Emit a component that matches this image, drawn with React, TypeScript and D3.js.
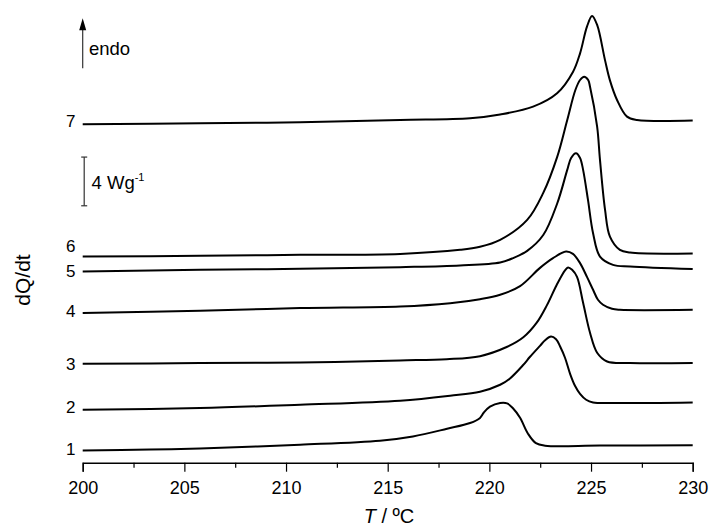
import React, { useEffect, useRef } from "react";
import * as d3 from "d3";

// DSC heating curves, heat flow in W/g (curves offset vertically), temperature in °C
const temps1 = [200, 203.31, 205.77, 210.69, 214.62, 216.24, 217.92, 219.05, 219.54, 219.72, 220.03, 220.53, 220.87, 221.16, 221.51, 221.9, 222.29, 222.74, 225.44, 230];
const flow1 = [1.01, 1.08, 1.17, 1.48, 1.81, 2.16, 2.79, 3.26, 3.68, 4.1, 4.6, 4.9, 4.87, 4.47, 3.69, 2.38, 1.6, 1.4, 1.41, 1.44];

const temps2 = [200, 205.77, 210.69, 215.61, 218.07, 219.54, 220.53, 221.0, 221.65, 222.0, 222.49, 222.74, 223.03, 223.28, 223.48, 223.72, 223.97, 224.21, 224.46, 224.76, 225.1, 226.08, 230];
const flow2 = [4.35, 4.49, 4.76, 5.09, 5.5, 5.83, 6.4, 6.9, 8.0, 8.7, 9.6, 10.05, 10.36, 10.14, 9.54, 8.62, 7.3, 6.32, 5.66, 5.17, 4.95, 4.9, 4.95];

const temps3 = [200, 205.77, 210.69, 215.61, 217.9, 219.54, 220.85, 221.67, 222.33, 222.82, 223.31, 223.72, 223.87, 224.07, 224.31, 224.61, 224.95, 225.3, 225.79, 226.92, 230];
const flow3 = [8.12, 8.18, 8.23, 8.4, 8.5, 8.75, 9.5, 10.3, 11.5, 12.9, 14.6, 15.8, 16.04, 15.84, 15.26, 13.13, 10.67, 9.03, 8.31, 8.18, 8.18];

const temps4 = [200, 205.77, 210.69, 215.61, 218.07, 219.54, 220.53, 221.51, 222.49, 223.13, 223.77, 224.11, 224.46, 224.8, 225.1, 225.34, 225.59, 226.03, 226.42, 230];
const flow4 = [12.29, 12.47, 12.7, 12.83, 13.1, 13.43, 13.79, 14.5, 16.0, 16.8, 17.34, 17.15, 16.39, 15.26, 14.2, 13.38, 12.97, 12.64, 12.56, 12.56];

const temps5 = [200, 205.77, 210.69, 215.61, 218.56, 220.53, 221.16, 221.86, 222.65, 223.34, 223.83, 224.02, 224.26, 224.46, 224.61, 224.85, 225.1, 225.44, 226.08, 226.92, 230];
const flow5 = [15.7, 15.84, 15.92, 16.06, 16.2, 16.45, 16.8, 17.4, 18.7, 21.31, 24.05, 25.03, 25.42, 25.03, 24.05, 21.58, 18.85, 16.93, 16.25, 16.11, 15.9];

const temps6 = [200, 205.77, 210.69, 215.61, 218.56, 219.54, 220.53, 221.86, 222.65, 223.34, 223.83, 224.23, 224.46, 224.66, 224.86, 224.95, 225.3, 225.44, 225.69, 225.93, 226.42, 226.92, 230];
const flow6 = [16.93, 16.99, 17.07, 17.15, 17.48, 17.73, 18.3, 19.94, 22.16, 25.14, 28.15, 30.61, 31.43, 31.7, 31.43, 30.88, 27.6, 24.87, 20.76, 18.57, 17.48, 17.26, 17.19];

const temps7 = [200, 205.77, 210.69, 215.61, 219.05, 220.53, 222.15, 223.33, 224.11, 224.46, 224.8, 225.05, 225.3, 225.69, 225.93, 226.28, 226.77, 227.26, 230];
const flow7 = [27.8, 27.88, 27.96, 28.15, 28.29, 28.6, 29.24, 30.34, 32.09, 33.62, 35.81, 36.69, 35.95, 33.04, 31.4, 29.79, 28.42, 28.15, 28.1];

const curveNames = ["1", "2", "3", "4", "5", "6", "7"];
const curveLabelY = [1.07, 4.51, 8.04, 12.39, 15.7, 17.74, 28.01];

const xTicks = [200, 205, 210, 215, 220, 225, 230];
const xMinorTicks = [202.5, 207.5, 212.5, 217.5, 222.5, 227.5];

// scale bar (W/g) and endo arrow extents (W/g)
const scaleBarBase = 21.1;
const scaleBarSize = 4;
const arrowBase = 32.4;
const arrowTip = 36.5;

const W = 709;
const H = 529;
const FONT = "'Liberation Sans', Arial, Helvetica, sans-serif";

export default function App() {
  const axisRef = useRef<SVGGElement>(null);

  const x = d3.scaleLinear().domain([200, 230]).range([82.7, 692.7]);
  const y = d3.scaleLinear().domain([0, 38]).range([462.7, 0]);

  const series = [
    [temps1, flow1],
    [temps2, flow2],
    [temps3, flow3],
    [temps4, flow4],
    [temps5, flow5],
    [temps6, flow6],
    [temps7, flow7],
  ];

  const line = d3
    .line<[number, number]>()
    .x((d) => x(d[0]))
    .y((d) => y(d[1]))
    .curve(d3.curveCatmullRom.alpha(0.5));

  useEffect(() => {
    if (!axisRef.current) return;
    const g = d3.select(axisRef.current);
    g.selectAll("*").remove();
    const major = d3
      .axisBottom(x)
      .tickValues(xTicks)
      .tickSize(9)
      .tickPadding(9.5)
      .tickFormat((d) => String(d));
    g.append("g").call(major);
    const minor = d3
      .axisBottom(x)
      .tickValues(xMinorTicks)
      .tickSize(5)
      .tickFormat(() => "");
    g.append("g").call(minor).select(".domain").remove();
    g.selectAll(".domain").attr("stroke", "#000").attr("stroke-width", 1.4);
    g.selectAll(".tick line").attr("stroke", "#000").attr("stroke-width", 1.2);
    g.selectAll(".tick text")
      .attr("fill", "#000")
      .style("font-family", FONT)
      .style("font-size", "18px");
  }, []);

  const sx = x(200) + 1.5;

  return (
    <svg
      width={W}
      height={H}
      style={{ position: "absolute", left: 0, top: 0, background: "#fff" }}
      fontFamily={FONT}
    >
      <rect width={W} height={H} fill="#fff" />
      {series.map(([t, v], i) => (
        <path
          key={i}
          d={line(t.map((tt, j) => [tt, v[j]] as [number, number])) || ""}
          fill="none"
          stroke="#000"
          strokeWidth={2}
          strokeLinejoin="round"
        />
      ))}
      {curveNames.map((n, i) => (
        <text
          key={n}
          x={75.5}
          y={y(curveLabelY[i])}
          textAnchor="end"
          dominantBaseline="central"
          fontSize={17}
          fill="#000"
        >
          {n}
        </text>
      ))}
      <g ref={axisRef} transform={`translate(0,${y(0)})`} />

      {/* endo arrow */}
      <line x1={x(200)} x2={x(200)} y1={y(arrowBase)} y2={y(arrowTip) + 10} stroke="#333" strokeWidth={1.2} />
      <path
        d={`M${x(200)},${y(arrowTip)} L${x(200) - 3.5},${y(arrowTip) + 12} L${x(200) + 3.5},${y(arrowTip) + 12} Z`}
        fill="#000"
      />
      <text x={89} y={y(arrowBase) + (y(arrowTip) - y(arrowBase)) * 0.4} dominantBaseline="central" fontSize={18.5} fill="#000">
        endo
      </text>

      {/* scale bar */}
      <line x1={sx} x2={sx} y1={y(scaleBarBase)} y2={y(scaleBarBase + scaleBarSize)} stroke="#333" strokeWidth={1.2} />
      <line x1={sx - 3} x2={sx + 3} y1={y(scaleBarBase)} y2={y(scaleBarBase)} stroke="#333" strokeWidth={1.2} />
      <line x1={sx - 3} x2={sx + 3} y1={y(scaleBarBase + scaleBarSize)} y2={y(scaleBarBase + scaleBarSize)} stroke="#333" strokeWidth={1.2} />
      <text x={91.5} y={189} fontSize={18.5} fill="#000">
        {`${scaleBarSize} Wg`}
        <tspan dy={-8} fontSize={11}>-1</tspan>
      </text>

      {/* axis titles */}
      <text
        transform={`translate(30,280) rotate(-90)`}
        textAnchor="middle"
        fontSize={21}
        fill="#000"
      >
        dQ/dt
      </text>
      <text x={389} y={523} textAnchor="middle" fontSize={20} fill="#000">
        <tspan fontStyle="italic">T</tspan> / ºC
      </text>
    </svg>
  );
}
